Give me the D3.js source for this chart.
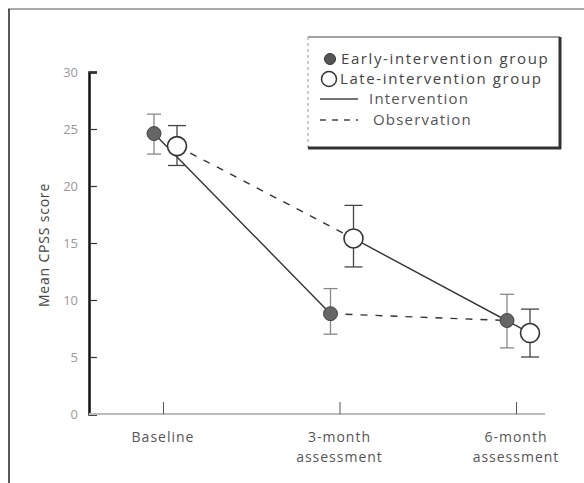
<!DOCTYPE html>
<html>
<head>
<meta charset="utf-8">
<script src="https://cdn.jsdelivr.net/npm/d3@7"></script>
<style>
  body { margin: 0; background: #fff; }
  text { font-family: "Open Sans", "Noto Sans", sans-serif; }
</style>
</head>
<body>
<script>
const timepoints = ["Baseline", "3-month assessment", "6-month assessment"];
const yTicks = [0, 5, 10, 15, 20, 25, 30];

const earlyMean = [24.6, 8.8, 8.2];
const earlyHigh = [26.3, 11.0, 10.5];
const earlyLow = [22.8, 7.0, 5.8];

const lateMean = [23.5, 15.4, 7.1];
const lateHigh = [25.3, 18.3, 9.2];
const lateLow = [21.8, 12.9, 5.0];

// segment styles: which phase each group was in between timepoints
const earlyPhases = ["Intervention", "Observation"];
const latePhases = ["Observation", "Intervention"];

const width = 584, height = 483;

const svg = d3.select("body").append("svg")
    .attr("width", width)
    .attr("height", height);

// outer frame
svg.append("line").attr("x1", 8).attr("x2", 584).attr("y1", 9).attr("y2", 9)
    .attr("stroke", "#aaa").attr("stroke-width", 2);
svg.append("line").attr("x1", 9).attr("x2", 9).attr("y1", 9).attr("y2", 483)
    .attr("stroke", "#222").attr("stroke-width", 1.5);

const x = d3.scalePoint()
    .domain(timepoints)
    .range([163, 516]);

const y = d3.scaleLinear()
    .domain([0, 30])
    .range([414, 72]);

const earlyOffset = -9, lateOffset = 14;

// y axis
const yAxis = svg.append("g")
    .attr("transform", "translate(89,0)")
    .call(d3.axisRight(y).tickValues(yTicks).tickSize(8).tickFormat(""));
yAxis.select(".domain").attr("stroke", "#111").attr("stroke-width", 2.5);
yAxis.selectAll(".tick line").attr("stroke", "#333").attr("stroke-width", 1.2);

svg.selectAll("text.ytick")
    .data(yTicks)
    .enter().append("text")
    .attr("class", "ytick")
    .attr("x", 78)
    .attr("y", d => y(d))
    .attr("dy", "0.35em")
    .attr("text-anchor", "end")
    .attr("font-size", 13)
    .attr("fill", "#999")
    .text(d => d);

// x axis
const xAxis = svg.append("g")
    .attr("transform", "translate(0,414)")
    .call(d3.axisTop(x).tickSize(12).tickFormat("").tickSizeOuter(0));
xAxis.select(".domain").attr("d", "M89,0H545").attr("stroke", "#bbb").attr("stroke-width", 2);
xAxis.selectAll(".tick line").attr("stroke", "#555").attr("stroke-width", 1);

const xLabels = svg.selectAll("text.xlab")
    .data(timepoints)
    .enter().append("text")
    .attr("class", "xlab")
    .attr("x", d => x(d))
    .attr("y", 442)
    .attr("text-anchor", "middle")
    .attr("font-size", 14)
    .attr("letter-spacing", 1)
    .attr("fill", "#555");
xLabels.each(function(d) {
    const parts = d === "Baseline" ? [d] : [d.split(" ")[0], d.split(" ")[1]];
    d3.select(this).selectAll("tspan")
        .data(parts)
        .enter().append("tspan")
        .attr("x", x(d))
        .attr("dy", (p, i) => i === 0 ? 0 : 20)
        .text(p => p);
});

svg.append("text")
    .attr("transform", "translate(49,245) rotate(-90)")
    .attr("text-anchor", "middle")
    .attr("font-size", 14)
    .attr("letter-spacing", 0.8)
    .attr("fill", "#444")
    .text("Mean CPSS score");

// connecting lines
function drawSegments(means, offset, phases) {
    for (let i = 0; i < means.length - 1; i++) {
        svg.append("line")
            .attr("x1", x(timepoints[i]) + offset)
            .attr("y1", y(means[i]))
            .attr("x2", x(timepoints[i + 1]) + offset)
            .attr("y2", y(means[i + 1]))
            .attr("stroke", "#333")
            .attr("stroke-width", 1.4)
            .attr("stroke-dasharray", phases[i] === "Observation" ? "7,8" : null);
    }
}
drawSegments(earlyMean, earlyOffset, earlyPhases);
drawSegments(lateMean, lateOffset, latePhases);

// error bars
function drawErrors(high, low, offset, cap, color) {
    timepoints.forEach(function(t, i) {
        const cx = x(t) + offset;
        svg.append("line").attr("x1", cx).attr("x2", cx)
            .attr("y1", y(high[i])).attr("y2", y(low[i]))
            .attr("stroke", color).attr("stroke-width", 1.3);
        [high[i], low[i]].forEach(function(v) {
            svg.append("line").attr("x1", cx - cap).attr("x2", cx + cap)
                .attr("y1", y(v)).attr("y2", y(v))
                .attr("stroke", color).attr("stroke-width", 1.3);
        });
    });
}
drawErrors(earlyHigh, earlyLow, earlyOffset, 7, "#888");
drawErrors(lateHigh, lateLow, lateOffset, 9, "#444");

// points
svg.selectAll("circle.late")
    .data(lateMean)
    .enter().append("circle")
    .attr("class", "late")
    .attr("cx", (d, i) => x(timepoints[i]) + lateOffset)
    .attr("cy", d => y(d))
    .attr("r", 9.5)
    .attr("fill", "#fff")
    .attr("stroke", "#333")
    .attr("stroke-width", 1.6);

svg.selectAll("circle.early")
    .data(earlyMean)
    .enter().append("circle")
    .attr("class", "early")
    .attr("cx", (d, i) => x(timepoints[i]) + earlyOffset)
    .attr("cy", d => y(d))
    .attr("r", 7)
    .attr("fill", "#666")
    .attr("stroke", "#444")
    .attr("stroke-width", 1);

// legend
const lg = svg.append("g").attr("transform", "translate(308,37)");
lg.append("rect").attr("width", 252).attr("height", 111)
    .attr("fill", "#fff").attr("stroke", "none");
lg.append("line").attr("x1", 0).attr("x2", 252).attr("y1", 0).attr("y2", 0)
    .attr("stroke", "#444").attr("stroke-width", 1);
lg.append("line").attr("x1", 0).attr("x2", 0).attr("y1", 0).attr("y2", 111)
    .attr("stroke", "#999").attr("stroke-width", 1).attr("stroke-dasharray", "3,3");
lg.append("line").attr("x1", 252).attr("x2", 252).attr("y1", 0).attr("y2", 112)
    .attr("stroke", "#333").attr("stroke-width", 3);
lg.append("line").attr("x1", 0).attr("x2", 253).attr("y1", 111).attr("y2", 111)
    .attr("stroke", "#333").attr("stroke-width", 3);

const legendFont = 15;
lg.append("circle").attr("cx", 22).attr("cy", 22).attr("r", 5.5)
    .attr("fill", "#555").attr("stroke", "#333");
lg.append("text").attr("x", 33).attr("y", 27).attr("font-size", legendFont)
    .attr("letter-spacing", 1.6)
    .attr("fill", "#444").text("Early-intervention group");
lg.append("circle").attr("cx", 21).attr("cy", 42).attr("r", 7.5)
    .attr("fill", "#fff").attr("stroke", "#333").attr("stroke-width", 1.5);
lg.append("text").attr("x", 32).attr("y", 47).attr("font-size", legendFont)
    .attr("letter-spacing", 1.6)
    .attr("fill", "#444").text("Late-intervention group");
lg.append("line").attr("x1", 12).attr("x2", 50).attr("y1", 62).attr("y2", 62)
    .attr("stroke", "#444").attr("stroke-width", 1.3);
lg.append("text").attr("x", 61).attr("y", 67).attr("font-size", legendFont)
    .attr("letter-spacing", 1.2)
    .attr("fill", "#555").text("Intervention");
lg.append("line").attr("x1", 12).attr("x2", 50).attr("y1", 83).attr("y2", 83)
    .attr("stroke", "#444").attr("stroke-width", 1.3).attr("stroke-dasharray", "6,6");
lg.append("text").attr("x", 65).attr("y", 88).attr("font-size", legendFont)
    .attr("letter-spacing", 1.2)
    .attr("fill", "#555").text("Observation");
</script>
</body>
</html>
